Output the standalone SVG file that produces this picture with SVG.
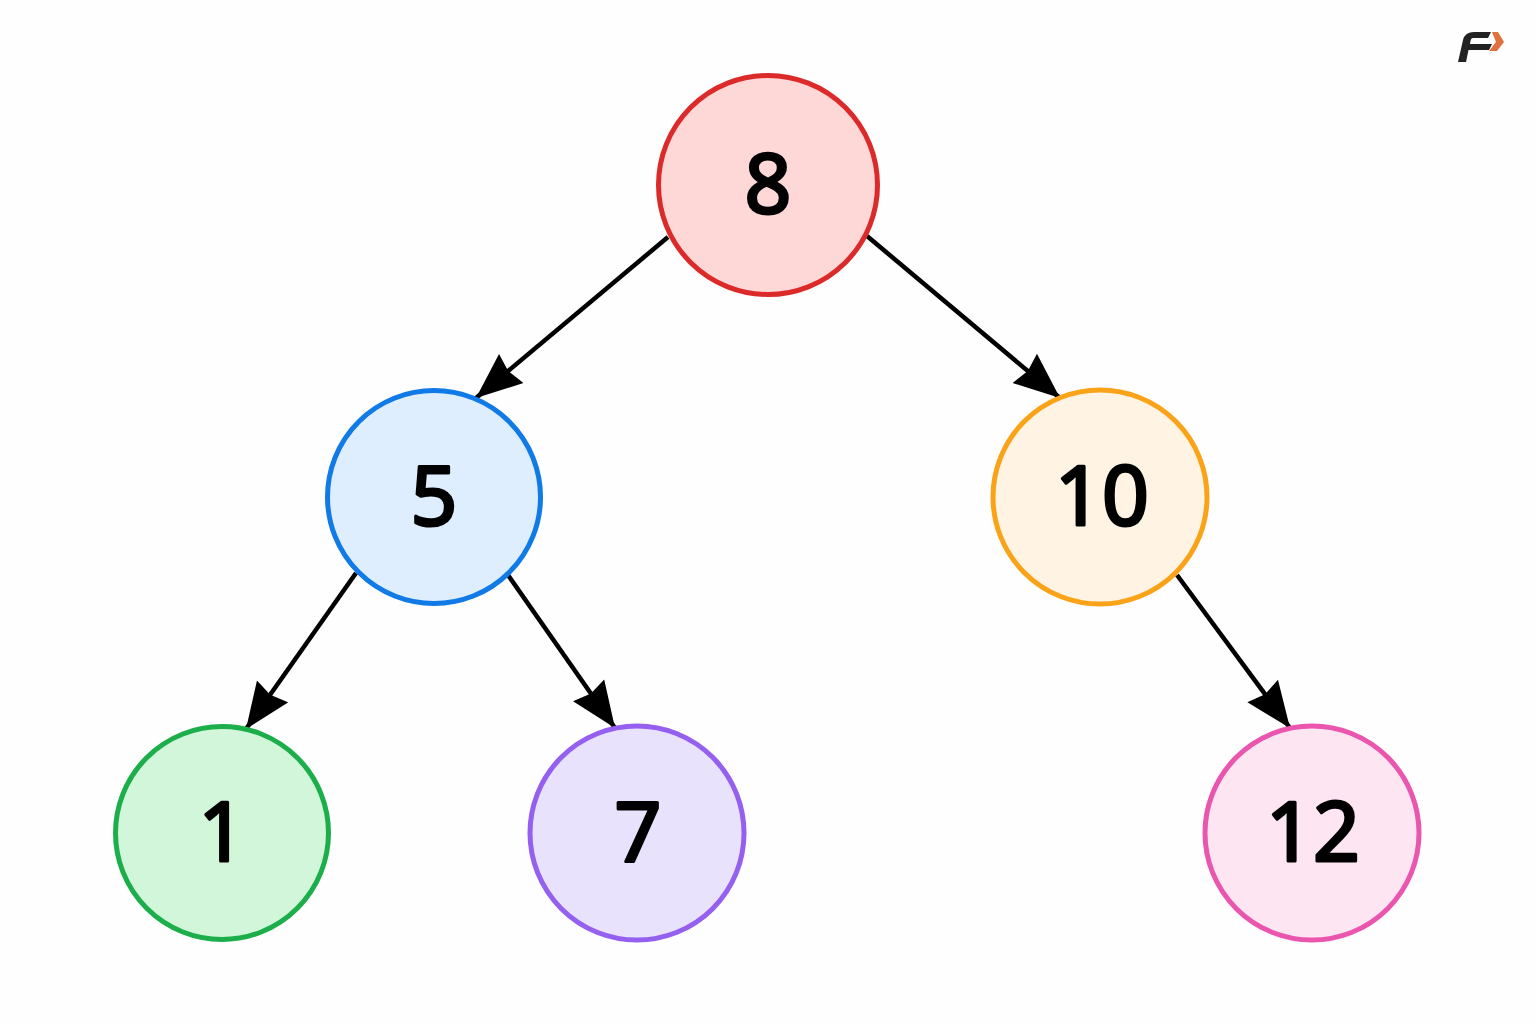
<svg xmlns="http://www.w3.org/2000/svg" width="1536" height="1024" viewBox="0 0 1536 1024">
<style>
circle{stroke-width:5}
text{font-family:"Noto Sans","DejaVu Sans",sans-serif;font-size:82px;font-weight:400;fill:#000;stroke:#000;stroke-width:3;stroke-linejoin:round;stroke-linecap:round;text-anchor:middle}
.e{stroke:#000;stroke-width:4.500;fill:none;marker-end:url(#a)}
</style>
<defs><marker id="a" markerUnits="userSpaceOnUse" markerWidth="50" markerHeight="50" refX="46" refY="20" orient="auto"><path d="M0 1L46 20L0 39L4 20Z" fill="#000"/></marker></defs>
<rect width="1536" height="1024" fill="#fefefe"/>
<g id="edges">
<path class="e" d="M668 237L476 398"/>
<path class="e" d="M867 236L1060 398"/>
<path class="e" d="M356 573L246 729"/>
<path class="e" d="M508 575L615 728"/>
<path class="e" d="M1177 575L1290 728"/>
</g>
<g id="n8"><circle cx="768" cy="185" r="109.500" fill="#fed7d7" stroke="#dc2a2a"/><text x="768" y="213">8</text></g>
<g id="n5"><circle cx="434" cy="497" r="106.500" fill="#dfeefe" stroke="#107ae6"/><text x="434" y="525">5</text></g>
<g id="n10"><circle cx="1100" cy="497" r="107" fill="#fff4e3" stroke="#fba318"/><text x="1102" y="525">10</text></g>
<g id="n1"><circle cx="222" cy="833" r="106.500" fill="#d2f6da" stroke="#1cae4a"/><text x="222" y="861">1</text></g>
<g id="n7"><circle cx="637" cy="833" r="107" fill="#e9e2fc" stroke="#9560f0"/><text x="638" y="861">7</text></g>
<g id="n12"><circle cx="1312" cy="833" r="107" fill="#fde6f2" stroke="#ea55ae"/><text x="1313" y="861">12</text></g>
<g id="logo"><path d="M1458 62L1463 40Q1465 32 1474 32L1491 32L1488 38L1473 38Q1471 38 1470.500 41L1470 44L1488 44L1492 44L1489 50L1468.500 50L1466 62Z" fill="#222"/><path d="M1492 32L1498 32L1504 42L1497 51L1489 51L1496 42Z" fill="#e0703c"/></g>
</svg>
